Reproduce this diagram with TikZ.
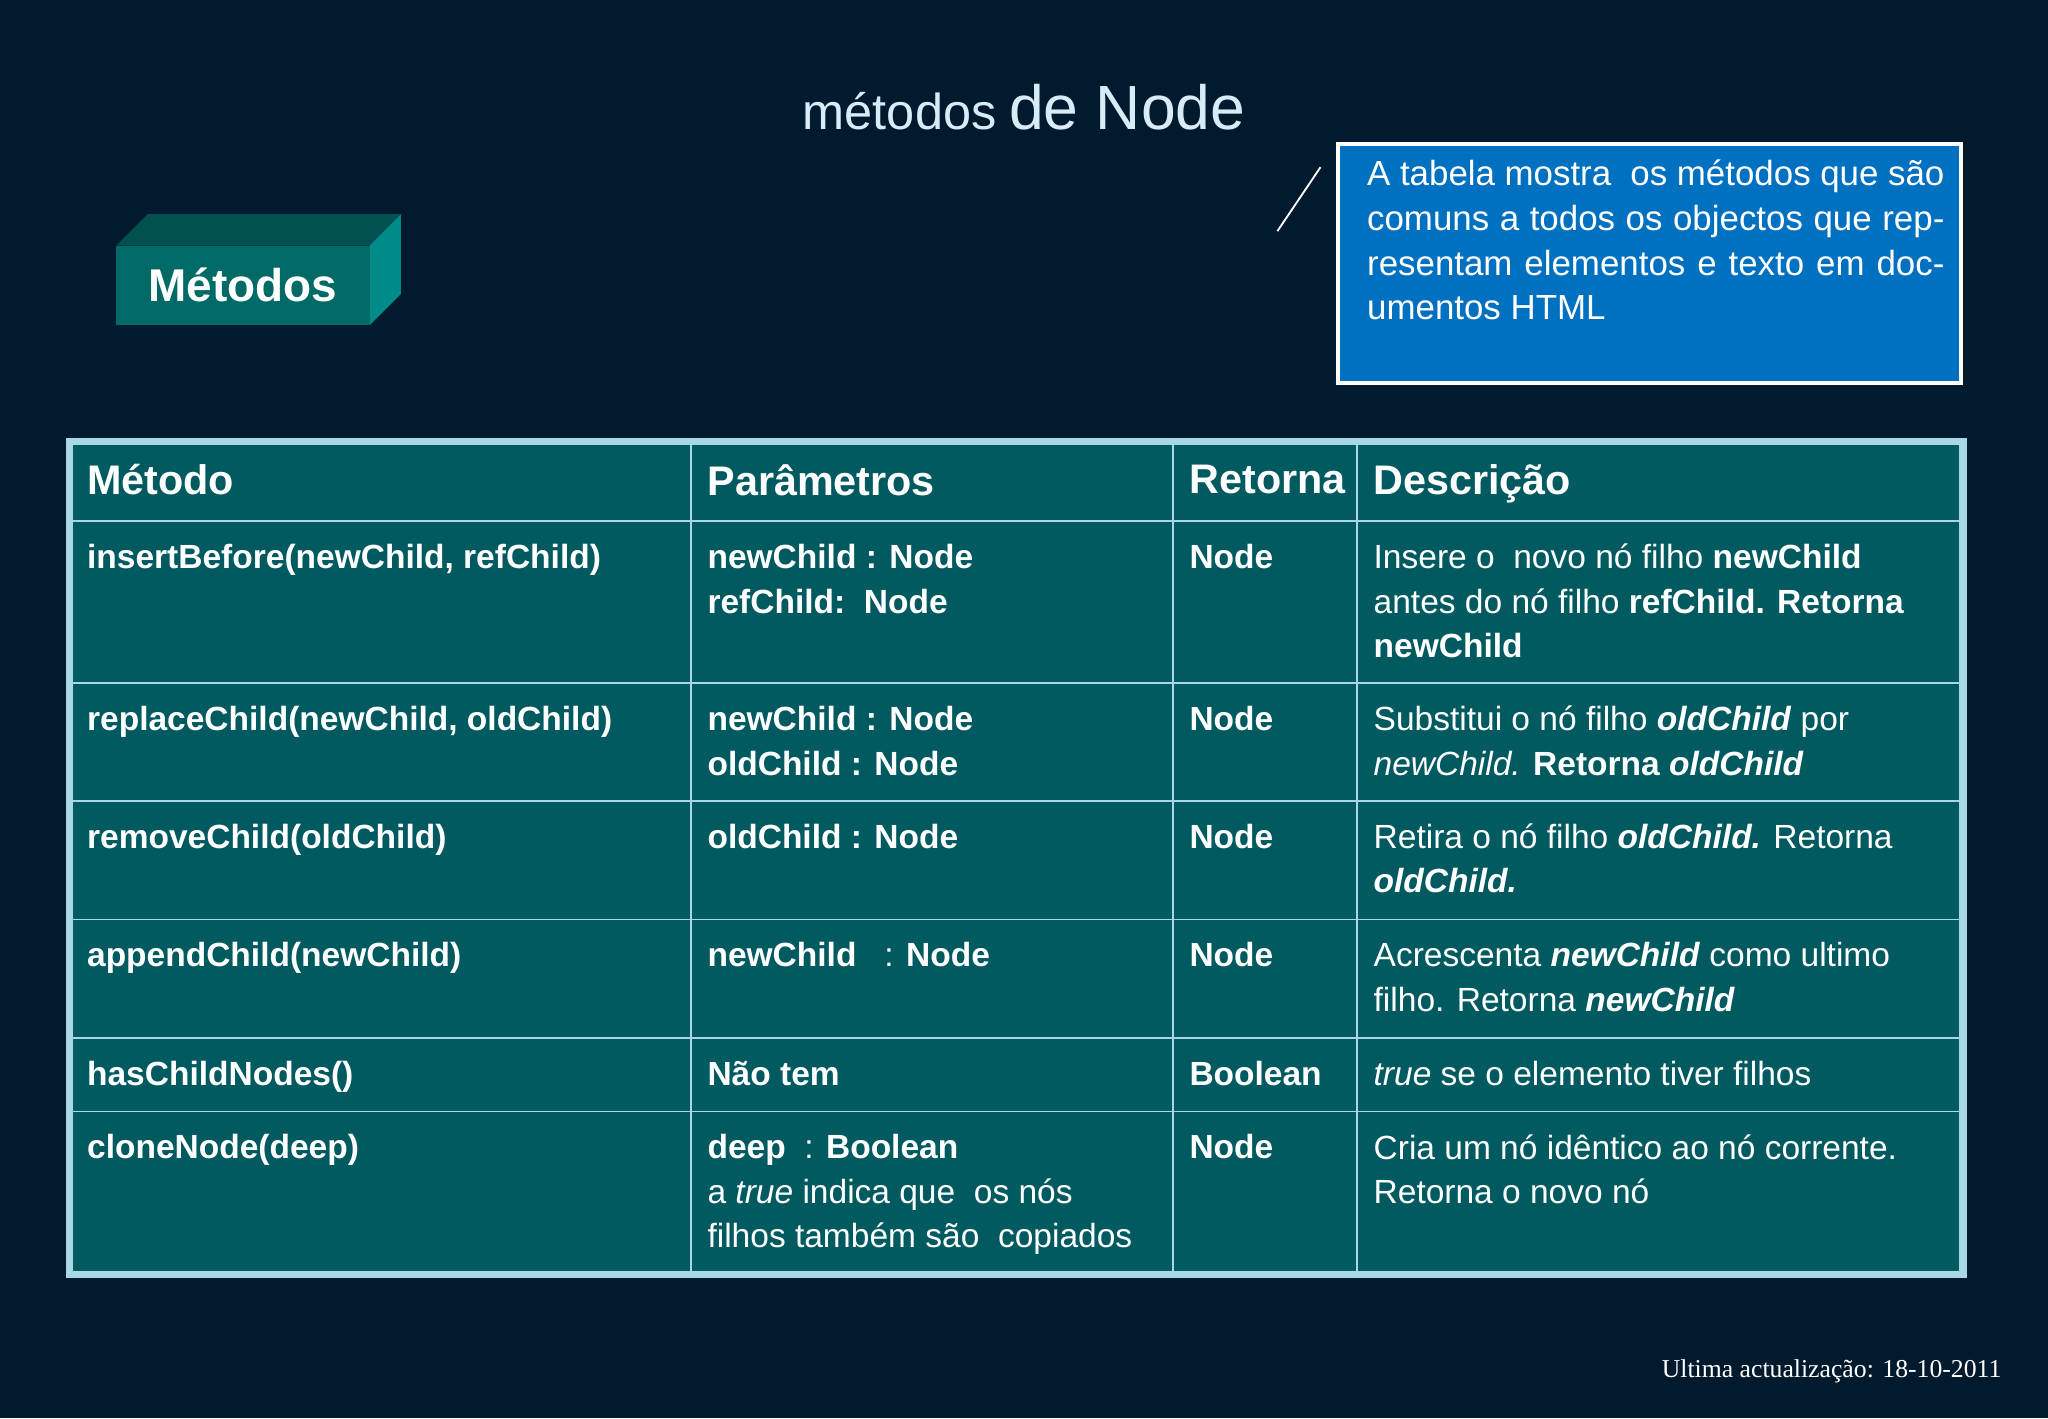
\documentclass[tikz,border=0pt]{standalone}
\usepackage{fontspec}
\setmainfont{Liberation Sans}
\newfontfamily\footfont{Liberation Serif}
\definecolor{bgnavy}{HTML}{011A2E}
\definecolor{tabteal}{HTML}{005A60}
\definecolor{tabline}{HTML}{A8D8E8}
\definecolor{notebl}{HTML}{0070C0}
\definecolor{boxfront}{HTML}{006A66}
\definecolor{boxtop}{HTML}{00514F}
\definecolor{boxside}{HTML}{008A88}
\definecolor{titlecol}{HTML}{D8ECF8}
\tikzset{
  cell/.style = {anchor=north west, inner sep=0pt, align=left, text=white,
                 font=\fontsize{7.3}{9.7}\selectfont\bfseries},
  desc/.style = {cell, font=\fontsize{7.3}{9.7}\selectfont},
  head/.style = {anchor=north west, inner sep=0pt, text=white,
                 font=\fontsize{9}{11}\selectfont\bfseries}
}
\begin{document}
\begin{tikzpicture}
\fill[bgnavy] (0,0) rectangle (15.68,-10.86);
\useasboundingbox (0,0) rectangle (15.68,-10.86);

%Title
\node [text=titlecol, anchor=base] (title) at (7.84,-0.99)
  {{\fontsize{11}{13}\selectfont métodos} {\fontsize{13.6}{16}\selectfont de Node}};

%Metodos box
\fill [boxtop] (0.89,-1.88) -- (1.13,-1.64) -- (3.07,-1.64) -- (2.83,-1.88) -- cycle;
\fill [boxside] (2.83,-1.88) -- (3.07,-1.64) -- (3.07,-2.25) -- (2.83,-2.49) -- cycle;
\node [fill=boxfront, minimum width=1.94cm, minimum height=0.61cm, inner sep=0pt,
       text=white, font=\fontsize{10}{12}\selectfont\bfseries]
  (mbox) at (1.86,-2.185) {Métodos};

%Note
\node [draw=white, thick, fill=notebl, minimum width=4.77cm, minimum height=1.83cm,
       anchor=north west] (note) at (10.23,-1.09) {};
\node [anchor=north west, inner sep=0pt, text width=4.42cm, align=justify, text=white,
       font=\fontsize{7.6}{9.7}\selectfont] (notetxt) at (10.46,-1.22)
  {A tabela mostra\ \ os métodos que são comuns a todos os objectos que representam elementos e texto em documentos HTML};
\coordinate (la) at (9.78,-1.77);
\coordinate (lb) at (10.11,-1.28);
\draw [white, thin] (la) -- (lb);

%Table
\fill [tabteal] (0.53,-3.38) rectangle (15.03,-9.76);
\foreach \y in {3.99,5.23,6.13,7.04,7.95,8.51}
  \draw [tabline, thin] (0.53,-\y) -- (15.03,-\y);
\foreach \x in {5.29,8.98,10.39}
  \draw [tabline, thin] (\x,-3.38) -- (\x,-9.76);
\draw [tabline, line width=1.6pt] (0.53,-3.38) rectangle (15.03,-9.76);

%Header
\node [head] (h1) at (0.66,-3.55) {Método};
\node [head] (h2) at (5.41,-3.55) {Parâmetros};
\node [head] (h3) at (9.10,-3.55) {Retorna};
\node [head] (h4) at (10.51,-3.55) {Descrição};

%Row 1
\node [cell] (a1) at (0.66,-4.16) {insertBefore(newChild, refChild)};
\node [cell] (b1) at (5.41,-4.16) {newChild : Node\\refChild:\ \ Node};
\node [cell] (c1) at (9.10,-4.16) {Node};
\node [desc] (d1) at (10.51,-4.16) {Insere o\ \ novo nó filho \textbf{newChild}\\antes do nó filho \textbf{refChild. Retorna}\\\textbf{newChild}};
%Row 2
\node [cell] (a2) at (0.66,-5.40) {replaceChild(newChild, oldChild)};
\node [cell] (b2) at (5.41,-5.40) {newChild : Node\\oldChild : Node};
\node [cell] (c2) at (9.10,-5.40) {Node};
\node [desc] (d2) at (10.51,-5.40) {Substitui o nó filho \textbf{\textit{oldChild}} por\\\textit{newChild.} \textbf{Retorna \textit{oldChild}}};
%Row 3
\node [cell] (a3) at (0.66,-6.30) {removeChild(oldChild)};
\node [cell] (b3) at (5.41,-6.30) {oldChild : Node};
\node [cell] (c3) at (9.10,-6.30) {Node};
\node [desc] (d3) at (10.51,-6.30) {Retira o nó filho \textbf{\textit{oldChild.}} Retorna\\\textbf{\textit{oldChild.}}};
%Row 4
\node [cell] (a4) at (0.66,-7.21) {appendChild(newChild)};
\node [cell] (b4) at (5.41,-7.21) {newChild\ \ \ \textmd{:} Node};
\node [cell] (c4) at (9.10,-7.21) {Node};
\node [desc] (d4) at (10.51,-7.21) {Acrescenta \textbf{\textit{newChild}} como ultimo\\filho. Retorna \textbf{\textit{newChild}}};
%Row 5
\node [cell] (a5) at (0.66,-8.12) {hasChildNodes()};
\node [cell] (b5) at (5.41,-8.12) {Não tem};
\node [cell] (c5) at (9.10,-8.12) {Boolean};
\node [desc] (d5) at (10.51,-8.12) {\textit{true} se o elemento tiver filhos};
%Row 6
\node [cell] (a6) at (0.66,-8.68) {cloneNode(deep)};
\node [cell] (b6) at (5.41,-8.68) {deep\ \ \textmd{:} Boolean\\\textmd{a \textit{true} indica que\ \ os nós}\\\textmd{filhos também são\ \ copiados}};
\node [cell] (c6) at (9.10,-8.68) {Node};
\node [desc] (d6) at (10.51,-8.68) {Cria um nó idêntico ao nó corrente.\\Retorna o novo nó};

%Footer
\node [anchor=base east, inner sep=0pt, text=white, font=\footfont\fontsize{5.6}{7}\selectfont]
  (foot) at (15.33,-10.55) {Ultima actualização: 18-10-2011};
\end{tikzpicture}
\end{document}
